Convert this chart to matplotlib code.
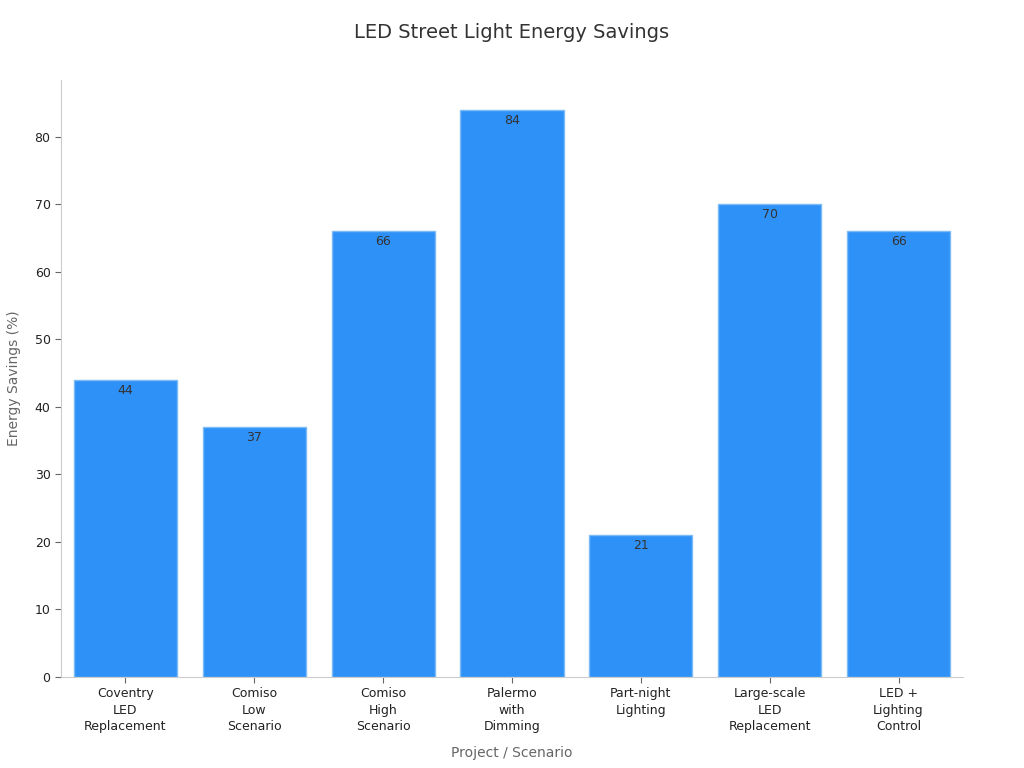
import matplotlib
matplotlib.use('Agg')
import matplotlib.pyplot as plt

categories = ['Coventry\nLED\nReplacement', 'Comiso\nLow\nScenario', 'Comiso\nHigh\nScenario',
              'Palermo\nwith\nDimming', 'Part-night\nLighting', 'Large-scale\nLED\nReplacement',
              'LED +\nLighting\nControl']
savings = [44, 37, 66, 84, 21, 70, 66]

plt.rcParams['font.family'] = ['DejaVu Sans']
fig = plt.figure(figsize=(10.24, 7.68), dpi=100)
ax = fig.add_axes([0.0596, 0.1185, 0.8808, 0.7775])

x = range(len(categories))
bars = ax.bar(x, savings, width=0.8, color='#2E91F8', edgecolor='#7DBBF5', linewidth=1)
for b, v in zip(bars, savings):
    ax.text(b.get_x() + b.get_width() / 2, v - 0.6, str(v), ha='center', va='top',
            fontsize=9, color='#333333')

ax.set_xlim(-0.5, 6.5)
ax.set_ylim(0, 88.4)
ax.set_xticks(list(x))
ax.set_xticklabels(categories, fontsize=9, color='#222222', linespacing=1.35)
ax.set_yticks(range(0, 81, 10))
ax.tick_params(axis='y', labelsize=9, labelcolor='#222222', color='#666666', length=4)
ax.tick_params(axis='x', color='#666666', length=4)
for s in ['top', 'right']:
    ax.spines[s].set_visible(False)
for s in ['left', 'bottom']:
    ax.spines[s].set_color('#cccccc')
ax.set_xlabel('Project / Scenario', fontsize=10, color='#666666', labelpad=9)
ax.set_ylabel('Energy Savings (%)', fontsize=10, color='#666666', labelpad=10)
fig.suptitle('LED Street Light Energy Savings', fontsize=14, color='#333333', y=0.97)

fig.savefig('out.png', facecolor='w')
